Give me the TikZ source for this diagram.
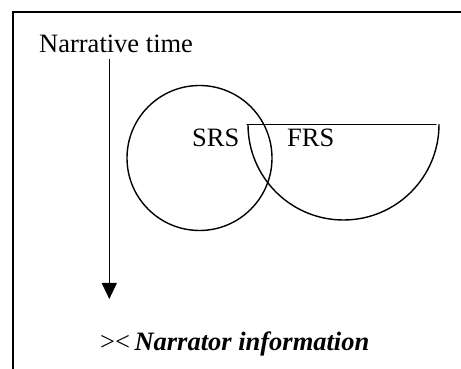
\documentclass[tikz,border=0pt]{standalone}
\usepackage{fontspec}
\setmainfont{Liberation Serif}
\usetikzlibrary{arrows.meta}
\tikzset{
  lbl/.style={anchor=base west, inner sep=0pt, font=\fontsize{26.5}{30}\selectfont},
  shapeline/.style={line width=1.4pt, line cap=round},
  framestyle/.style={line width=1.8pt},
}
\begin{document}
\begin{tikzpicture}[x=1pt,y=1pt]
\useasboundingbox (0,0) rectangle (461,369);
% frame (open on right and bottom)
\draw[framestyle] (461,357) -- (13,357) -- (13,-2);
% labels
\node[lbl] (nt) at (39,316) {Narrative time};
\node[lbl] (srslabel) at (192,222) {SRS};
\node[lbl] (frslabel) at (287,222) {FRS};
\node[lbl] (ni) at (100,18) {><\,\textbf{\textit{Narrator information}}};
% arrow
\coordinate (a1) at (109.3,310);
\coordinate (a2) at (109.3,70);
\draw[line width=1.4pt, -{Triangle[width=15pt,length=16pt]}] (a1) -- (a2);
% SRS circle
\node[circle, draw, shapeline, minimum size=145pt, inner sep=0pt] (srs) at (199.5,211) {};
% FRS half disc
\coordinate (frsL) at (247,244.5);
\coordinate (frsR) at (436,244.5);
\draw[shapeline] (frsL) -- (frsR);
\draw[shapeline] (248,244.5) arc (180:360:95.5);
\end{tikzpicture}
\end{document}
